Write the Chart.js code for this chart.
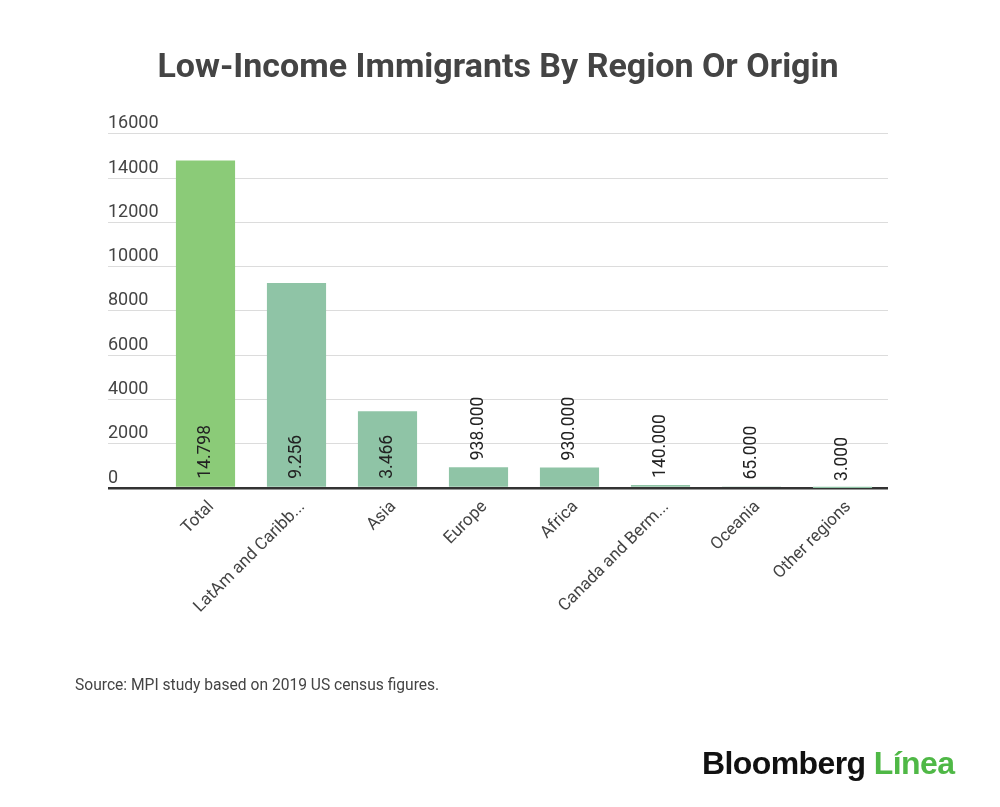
<!DOCTYPE html>
<html>
<head>
<meta charset="utf-8">
<title>Low-Income Immigrants By Region Or Origin</title>
<script src="https://cdn.jsdelivr.net/npm/chart.js@4.4.0/dist/chart.umd.min.js"></script>
<style>
  html, body { margin: 0; padding: 0; background: #fff; }
  #wrap { position: relative; width: 1000px; height: 807px; }
  #source {
    position: absolute; left: 75px; top: 676px;
    font: 15.6px Roboto, sans-serif; color: #444;
  }
  #logo {
    position: absolute; left: 702px; top: 745px;
    font: bold 32px "Liberation Sans", Arial, sans-serif; color: #111;
    letter-spacing: -0.6px; white-space: nowrap;
  }
  #logo span { color: #4fb846; }
</style>
</head>
<body>
<div id="wrap">
  <canvas id="regionChart" width="1000" height="807"></canvas>
  <div id="source">Source: MPI study based on 2019 US census figures.</div>
  <div id="logo">Bloomberg <span>Línea</span></div>
</div>
<script>
// values in thousands of people
const regions = ['Total', 'LatAm and Caribb...', 'Asia', 'Europe', 'Africa', 'Canada and Berm...', 'Oceania', 'Other regions'];
const immigrants = [14798, 9256, 3466, 938, 930, 140, 65, 3];
const barColors = ['#8bcb78', '#8fc4a6', '#8fc4a6', '#8fc4a6', '#8fc4a6', '#8fc4a6', '#8fc4a6', '#8fc4a6'];
const yTicks = [0, 2000, 4000, 6000, 8000, 10000, 12000, 14000, 16000];

// the source mixes styles: big numbers as "14.798", small ones as "938.000"
function formatValue(v) {
  if (v >= 1000) return Math.floor(v / 1000) + '.' + String(v % 1000).padStart(3, '0');
  return v + '.000';
}

const valueLabels = {
  id: 'valueLabels',
  afterDatasetsDraw(chart) {
    const ctx = chart.ctx;
    const meta = chart.getDatasetMeta(0);
    ctx.save();
    ctx.font = '17.5px Roboto';
    ctx.fillStyle = '#222';
    ctx.textAlign = 'left';
    ctx.textBaseline = 'middle';
    meta.data.forEach((bar, i) => {
      const text = formatValue(immigrants[i]);
      const w = ctx.measureText(text).width;
      const h = bar.base - bar.y;
      const start = h > w + 16 ? bar.base - 8 : bar.y - 7;
      ctx.save();
      ctx.translate(bar.x, start);
      ctx.rotate(-Math.PI / 2);
      ctx.fillText(text, 0, 0);
      ctx.restore();
    });
    ctx.restore();
  }
};

const ctx = document.getElementById('regionChart').getContext('2d');
const regionChart = new Chart(ctx, {
  type: 'bar',
  data: {
    labels: regions,
    datasets: [{
      label: 'Low-income immigrants',
      data: immigrants,
      backgroundColor: barColors,
      categoryPercentage: 1,
      barPercentage: 0.65
    }]
  },
  options: {
    responsive: false,
    animation: false,
    layout: { padding: { left: 108, right: 112, top: 0, bottom: 179 } },
    plugins: {
      legend: { display: false },
      tooltip: { enabled: false },
      title: {
        display: true,
        text: 'Low-Income Immigrants By Region Or Origin',
        color: '#444',
        font: { family: 'Roboto', size: 34, weight: 'bold' },
        padding: { top: 48, bottom: 45 }
      }
    },
    scales: {
      x: {
        grid: { display: false },
        border: { display: false },
        ticks: {
          color: '#444',
          font: { family: 'Roboto', size: 17 },
          maxRotation: 45,
          minRotation: 45,
          autoSkip: false,
          labelOffset: 6,
          padding: 1
        },
        afterFit(scale) { scale.height = 140; }
      },
      y: {
        min: 0,
        max: 16000,
        afterBuildTicks(scale) { scale.ticks = yTicks.map(v => ({ value: v })); },
        grid: {
          color: c => c.tick && c.tick.value === 0 ? '#333' : '#dcdcdc',
          lineWidth: c => c.tick && c.tick.value === 0 ? 2.5 : 1,
          tickLength: 52
        },
        border: { display: false },
        ticks: {
          color: '#444',
          font: { family: 'Roboto', size: 18 },
          crossAlign: 'far',
          labelOffset: -10,
          padding: 0,
          callback: v => String(v)
        },
        afterFit(scale) { scale.width = 52; }
      }
    }
  },
  plugins: [valueLabels]
});
</script>
</body>
</html>
